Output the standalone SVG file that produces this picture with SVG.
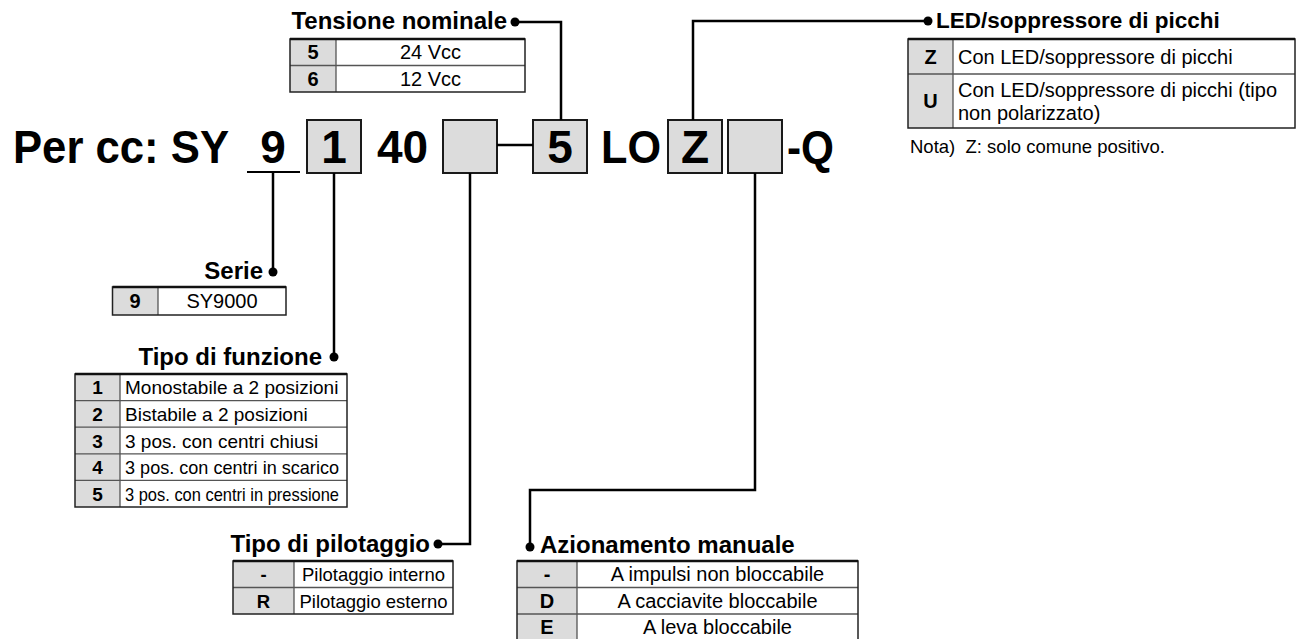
<svg xmlns="http://www.w3.org/2000/svg" width="1300" height="639" viewBox="0 0 1300 639">
<style>
text{font-family:"Liberation Sans",Arial,Helvetica,sans-serif;fill:#000}
.t{font-size:24px;font-weight:bold}
.code{font-size:46px;font-weight:bold}
.box{fill:#dcdcdc;stroke:#1a1a1a;stroke-width:2}
.key{fill:#dcdcdc}
.cell{fill:#fff}
.grid{stroke:#555;stroke-width:1.3;fill:none}
.frame{fill:none;stroke:#222;stroke-width:1.5}
.top{stroke:#111;stroke-width:2.5}
.b20{font-size:20px}
.b19{font-size:19px}
.b18{font-size:18.5px}
.k{font-weight:bold;text-anchor:middle}
.c{text-anchor:middle}
.e{text-anchor:end}
.conn{fill:none;stroke:#000;stroke-width:2.5}
.dot{fill:#000}
</style>

<g id="code">
<text class="code" x="13" y="163" textLength="216" lengthAdjust="spacingAndGlyphs">Per cc: SY</text>
<line x1="247" y1="172" x2="300" y2="172" stroke="#000" stroke-width="2"/>
<text class="code c" x="273" y="163">9</text>
<rect class="box" x="307" y="120" width="54" height="53"/>
<text class="code c" x="334" y="163">1</text>
<text class="code" x="377" y="163">40</text>
<rect class="box" x="443" y="120" width="54" height="53"/>
<rect class="box" x="533" y="120" width="54" height="53"/>
<text class="code c" x="560" y="163">5</text>
<text class="code" x="601" y="163" textLength="60" lengthAdjust="spacingAndGlyphs">LO</text>
<rect class="box" x="668" y="120" width="54" height="53"/>
<text class="code c" x="695" y="163">Z</text>
<rect class="box" x="728" y="120" width="54" height="53"/>
<text class="code" x="787" y="163" textLength="47" lengthAdjust="spacingAndGlyphs">-Q</text>
</g>

<g id="connectors">
<path class="conn" d="M497,145 H533"/>
<path class="conn" d="M515,22 H561 V120"/>
<path class="conn" d="M928,21 H693 V120"/>
<path class="conn" d="M273,172 V272"/>
<path class="conn" d="M334,173 V357"/>
<path class="conn" d="M470,173 V544 H438"/>
<path class="conn" d="M755,173 V490 H530 V547"/>
<circle class="dot" cx="515" cy="22" r="4.5"/>
<circle class="dot" cx="928" cy="21" r="4.5"/>
<circle class="dot" cx="273" cy="272" r="4.5"/>
<circle class="dot" cx="334" cy="357" r="4.5"/>
<circle class="dot" cx="438" cy="544" r="4.5"/>
<circle class="dot" cx="530" cy="547" r="4.5"/>
</g>

<g id="tensione">
<text class="t e" x="507" y="29">Tensione nominale</text>
<rect class="cell" x="290" y="39" width="235" height="53"/>
<rect class="key" x="290" y="39" width="46" height="53"/>
<path class="grid" d="M290,65.5 H525 M336,39 V92"/>
<rect class="frame" x="290" y="39" width="235" height="53"/>
<line class="top" x1="290" y1="39" x2="525" y2="39"/>
<text class="b20 k" x="313" y="59">5</text>
<text class="b20 c" x="430.5" y="59">24 Vcc</text>
<text class="b20 k" x="313" y="86">6</text>
<text class="b20 c" x="430.5" y="86">12 Vcc</text>
</g>

<g id="led">
<text class="t" x="936" y="28" style="font-size:22.5px">LED/soppressore di picchi</text>
<rect class="cell" x="908" y="39" width="387" height="89"/>
<rect class="key" x="908" y="39" width="45" height="89"/>
<path class="grid" d="M908,74 H1295 M953,39 V128"/>
<rect class="frame" x="908" y="39" width="387" height="89"/>
<line class="top" x1="908" y1="39" x2="1295" y2="39"/>
<text class="b20 k" x="930.5" y="63.5">Z</text>
<text class="b20" x="958" y="63.5">Con LED/soppressore di picchi</text>
<text class="b20 k" x="930.5" y="108">U</text>
<text class="b20" x="958" y="97">Con LED/soppressore di picchi (tipo</text>
<text class="b20" x="958" y="120">non polarizzato)</text>
<text class="b18" x="910" y="153" xml:space="preserve">Nota)  Z: solo comune positivo.</text>
</g>

<g id="serie">
<text class="t e" x="263" y="279">Serie</text>
<rect class="cell" x="112.5" y="287" width="173.5" height="28"/>
<rect class="key" x="112.5" y="287" width="45.5" height="28"/>
<path class="grid" d="M158,287 V315"/>
<rect class="frame" x="112.5" y="287" width="173.5" height="28"/>
<line class="top" x1="112.5" y1="287" x2="286" y2="287"/>
<text class="b20 k" x="135" y="308">9</text>
<text class="b20 c" x="222" y="308">SY9000</text>
</g>

<g id="funzione">
<text class="t e" x="322" y="365">Tipo di funzione</text>
<rect class="cell" x="75" y="374" width="272" height="133"/>
<rect class="key" x="75" y="374" width="45" height="133"/>
<path class="grid" d="M75,400.6 H347 M75,427.2 H347 M75,453.8 H347 M75,480.4 H347 M120,374 V507"/>
<rect class="frame" x="75" y="374" width="272" height="133"/>
<line class="top" x1="75" y1="374" x2="347" y2="374"/>
<text class="b19 k" x="97.5" y="394.3">1</text>
<text class="b19" x="125" y="394.3">Monostabile a 2 posizioni</text>
<text class="b19 k" x="97.5" y="420.9">2</text>
<text class="b19" x="125" y="420.9">Bistabile a 2 posizioni</text>
<text class="b19 k" x="97.5" y="447.5">3</text>
<text class="b19" x="125" y="447.5">3 pos. con centri chiusi</text>
<text class="b19 k" x="97.5" y="474.1">4</text>
<text class="b19" x="125" y="474.1" textLength="214" lengthAdjust="spacingAndGlyphs">3 pos. con centri in scarico</text>
<text class="b19 k" x="97.5" y="500.7">5</text>
<text class="b19" x="125" y="500.7" textLength="214" lengthAdjust="spacingAndGlyphs">3 pos. con centri in pressione</text>
</g>

<g id="pilotaggio">
<text class="t e" x="430" y="552">Tipo di pilotaggio</text>
<rect class="cell" x="233" y="561" width="220" height="53"/>
<rect class="key" x="233" y="561" width="61" height="53"/>
<path class="grid" d="M233,587.5 H453 M294,561 V614"/>
<rect class="frame" x="233" y="561" width="220" height="53"/>
<line class="top" x1="233" y1="561" x2="453" y2="561"/>
<text class="b18 k" x="263.5" y="581">-</text>
<text class="b18 c" x="373.5" y="581">Pilotaggio interno</text>
<text class="b18 k" x="263.5" y="608">R</text>
<text class="b18 c" x="373.5" y="608">Pilotaggio esterno</text>
</g>

<g id="azionamento">
<text class="t" x="540" y="553">Azionamento manuale</text>
<rect class="cell" x="517" y="561" width="341" height="79"/>
<rect class="key" x="517" y="561" width="60" height="79"/>
<path class="grid" d="M517,587.5 H858 M517,614 H858 M577,561 V640"/>
<rect class="frame" x="517" y="561" width="341" height="79"/>
<line class="top" x1="517" y1="561" x2="858" y2="561"/>
<text class="b20 k" x="547" y="581">-</text>
<text class="b20 c" x="717.5" y="581">A impulsi non bloccabile</text>
<text class="b20 k" x="547" y="608">D</text>
<text class="b20 c" x="717.5" y="608">A cacciavite bloccabile</text>
<text class="b20 k" x="547" y="634">E</text>
<text class="b20 c" x="717.5" y="634">A leva bloccabile</text>
</g>
</svg>
